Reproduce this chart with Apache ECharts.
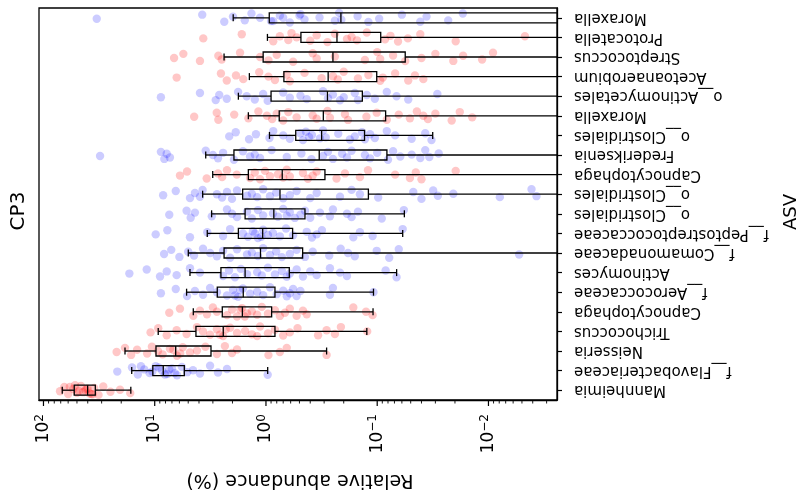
<!DOCTYPE html>
<html>
<head>
<meta charset="utf-8">
<script src="https://cdn.jsdelivr.net/npm/echarts@6/dist/echarts.min.js"></script>
</head>
<body style="margin:0">
<div id="container" style="width:806px;height:498px"></div>
<script>
// categories listed bottom -> top
var categories = ['Mannheimia', 'f__Flavobacteriaceae', 'Neisseria', 'Trichococcus', 'Capnocytophaga',
  'f__Aerococcaceae', 'Actinomyces', 'f__Comamonadaceae', 'f__Peptostreptococcaceae', 'o__Clostridiales',
  'o__Clostridiales', 'Capnocytophaga', 'Frederiksenia', 'o__Clostridiales', 'Moraxella',
  'o__Actinomycetales', 'Acetoanaerobium', 'Streptococcus', 'Protocatella', 'Moraxella'];
var groups = ['r', 'b', 'r', 'r', 'r', 'b', 'b', 'b', 'b', 'b', 'b', 'r', 'b', 'b', 'r', 'b', 'r', 'r', 'r', 'b'];

// box stats per category: [low whisker, Q1, median, Q3, high whisker] (relative abundance, %)
var boxStats = [
  [16.4, 34.2, 40.1, 52.9, 67.8],
  [0.965, 5.42, 8.38, 10.4, 16.1],
  [0.285, 3.12, 6.48, 9.74, 18.5],
  [0.124, 0.83, 2.42, 4.26, 9.3],
  [0.109, 0.889, 1.63, 2.47, 4.5],
  [0.108, 0.83, 1.6, 2.74, 5.17],
  [0.0669, 0.617, 1.54, 2.54, 4.82],
  [0.001, 0.468, 1.12, 2.38, 4.99],
  [0.059, 0.576, 1.07, 1.77, 3.37],
  [0.057, 0.446, 0.85, 1.54, 3.08],
  [0.001, 0.12, 0.748, 1.62, 3.71],
  [0.001, 0.295, 0.714, 1.44, 3.01],
  [0.001, 0.0818, 0.332, 1.94, 3.48],
  [0.0317, 0.13, 0.316, 0.54, 0.93],
  [0.001, 0.084, 0.305, 0.76, 1.44],
  [0.001, 0.136, 0.28, 0.90, 1.77],
  [0.001, 0.101, 0.276, 0.69, 1.41],
  [0.001, 0.056, 0.25, 1.06, 2.38],
  [0.001, 0.093, 0.23, 0.485, 0.97],
  [0.0005, 0.001, 0.212, 0.934, 1.97]
];

// individual samples per category (%)
var points = [
  [71, 65, 60, 54, 50, 46, 42, 38.5, 35, 32, 29, 25, 20.5, 16.6, 52, 44, 40, 36, 48, 58, 37, 41],
  [21.7, 16, 14.2, 12.4, 11.1, 9.8, 8.6, 7.7, 7.0, 6.3, 5.7, 5.1, 4.53, 3.92, 3.18, 2.7, 2.24, 0.965, 10.5, 9.2, 8.1, 7.4, 6.6, 13.3],
  [22, 18.5, 16.3, 14.4, 11.7, 10.6, 9.35, 8.5, 7.3, 6.3, 5.6, 4.82, 4.17, 2.76, 2.34, 2.02, 1.82, 0.95, 0.75, 0.65, 0.285, 6.8, 5.9, 3.5],
  [10.9, 9.3, 7.8, 6.35, 5.17, 4.17, 3.68, 3.18, 2.76, 2.43, 2.1, 1.82, 1.54, 1.34, 1.13, 0.96, 0.83, 0.70, 0.61, 0.52, 0.34, 0.285, 0.24, 0.212, 0.123, 2.6, 2.3, 1.2],
  [7.4, 5.93, 4.5, 3.92, 3.39, 3.0, 2.76, 2.24, 2.02, 1.82, 1.64, 1.48, 1.34, 1.2, 1.09, 0.96, 0.83, 0.75, 0.675, 0.61, 0.53, 0.465, 0.43, 0.164, 0.126, 0.11, 1.7, 1.55],
  [8.8, 6.47, 5.12, 4.35, 3.68, 3.18, 2.76, 2.24, 1.98, 1.78, 1.61, 1.39, 1.2, 1.06, 0.92, 0.80, 0.70, 0.65, 0.61, 0.57, 0.53, 0.49, 0.266, 0.25, 0.108, 1.9, 1.7],
  [16.9, 11.8, 8.96, 7.8, 6.35, 4.82, 3.92, 2.43, 2.15, 1.9, 1.68, 1.48, 1.2, 1.09, 0.96, 0.83, 0.72, 0.65, 0.61, 0.53, 0.465, 0.40, 0.35, 0.266, 0.216, 0.187, 0.084, 0.067],
  [8.24, 7.1, 6.0, 5.0, 4.43, 3.68, 3.18, 2.76, 2.43, 2.1, 1.82, 1.48, 1.34, 1.18, 1.06, 0.92, 0.81, 0.72, 0.61, 0.53, 0.446, 0.38, 0.27, 0.213, 0.183, 0.159, 0.101, 0.078, 0.064, 0.0053],
  [9.8, 7.7, 4.82, 3.37, 2.43, 2.1, 1.61, 1.45, 1.31, 1.18, 1.06, 0.96, 0.865, 0.75, 0.66, 0.57, 0.43, 0.386, 0.35, 0.314, 0.164, 0.143, 0.11, 0.059, 1.25, 1.1],
  [7.4, 5.17, 4.75, 4.35, 3.07, 2.24, 2.02, 1.82, 1.48, 1.34, 1.18, 1.06, 0.865, 0.78, 0.70, 0.65, 0.61, 0.55, 0.49, 0.446, 0.40, 0.327, 0.266, 0.25, 0.187, 0.17, 0.149, 0.091, 0.0576],
  [8.4, 6.47, 4.82, 4.35, 3.92, 3.71, 2.76, 2.48, 2.24, 2.02, 1.82, 1.48, 1.34, 1.2, 1.06, 0.92, 0.81, 0.70, 0.61, 0.53, 0.40, 0.35, 0.216, 0.17, 0.143, 0.098, 0.0474, 0.040, 0.0314, 0.0285, 0.0207, 0.0079, 0.0041, 0.0037],
  [5.93, 5.12, 3.41, 2.7, 2.48, 2.24, 1.83, 1.39, 1.26, 1.13, 1.02, 0.92, 0.78, 0.70, 0.65, 0.61, 0.465, 0.42, 0.38, 0.35, 0.232, 0.195, 0.143, 0.121, 0.069, 0.0508, 0.045, 0.040, 0.0197],
  [31.0, 8.8, 8.2, 7.8, 7.3, 3.48, 3.0, 2.7, 2.43, 1.94, 1.61, 1.39, 1.26, 1.13, 0.89, 0.65, 0.48, 0.39, 0.307, 0.277, 0.25, 0.207, 0.187, 0.17, 0.129, 0.116, 0.1, 0.08, 0.072, 0.062, 0.049, 0.041, 0.037, 0.034, 0.028],
  [2.14, 1.87, 1.42, 1.23, 0.93, 0.86, 0.70, 0.61, 0.49, 0.465, 0.437, 0.41, 0.386, 0.327, 0.307, 0.29, 0.224, 0.176, 0.159, 0.137, 0.129, 0.116, 0.105, 0.082, 0.069, 0.049, 0.037, 0.0325],
  [4.42, 2.77, 2.68, 1.93, 1.44, 1.17, 0.98, 0.88, 0.80, 0.70, 0.63, 0.53, 0.38, 0.35, 0.28, 0.266, 0.195, 0.183, 0.125, 0.101, 0.082, 0.064, 0.0508, 0.044, 0.0385, 0.035, 0.030, 0.0214, 0.0181, 0.014],
  [8.8, 3.92, 2.83, 2.63, 2.25, 1.78, 1.49, 1.26, 1.06, 0.965, 0.70, 0.61, 0.49, 0.43, 0.307, 0.277, 0.25, 0.216, 0.2, 0.159, 0.149, 0.124, 0.105, 0.082, 0.067, 0.0526, 0.0288],
  [6.35, 2.54, 2.25, 1.86, 1.6, 1.15, 0.95, 0.83, 0.65, 0.61, 0.45, 0.316, 0.25, 0.226, 0.2, 0.149, 0.12, 0.094, 0.089, 0.069, 0.0526, 0.0458, 0.0385],
  [6.7, 5.53, 3.92, 2.68, 2.5, 1.71, 1.13, 0.95, 0.80, 0.57, 0.38, 0.35, 0.24, 0.129, 0.1, 0.094, 0.072, 0.056, 0.04, 0.030, 0.0207, 0.0169, 0.0114, 0.0091],
  [3.66, 1.65, 0.86, 0.75, 0.63, 0.59, 0.53, 0.40, 0.35, 0.28, 0.24, 0.187, 0.17, 0.152, 0.124, 0.085, 0.076, 0.065, 0.053, 0.041, 0.0197, 0.0047],
  [33.2, 3.74, 2.37, 1.98, 1.55, 1.35, 1.13, 0.86, 0.75, 0.61, 0.49, 0.45, 0.33, 0.24, 0.22, 0.21, 0.15, 0.12, 0.096, 0.06, 0.041, 0.036, 0.023, 0.017, 0.7, 0.9, 0.5]
];

var majorTicks = [0.01, 0.1, 1, 10, 100];

// styling
var jitterPattern = [0.05, -0.16, 0.2, -0.06, 0.13, -0.22, 0.0, 0.17, -0.11, 0.24, -0.19, 0.08, -0.02, 0.15, -0.25, 0.1, -0.08, 0.21];
var groupColor = { r: 'rgba(255,0,0,0.22)', b: 'rgba(0,0,255,0.2)' };
var font = 'DejaVu Sans';

var minorTicks = [];
[0.001, 0.01, 0.1, 1, 10].forEach(function (d) {
  for (var m = 2; m <= 9; m++) minorTicks.push(+(d * m).toPrecision(3));
});

var pointData = [];
points.forEach(function (row, i) {
  row.forEach(function (v, k) { pointData.push([v, i, k]); });
});
var boxData = boxStats.map(function (s, i) { return [i].concat(s); });
var tickData = majorTicks.map(function (v) { return [v, 1]; })
  .concat(minorTicks.map(function (v) { return [v, 0]; }));

function renderPoint(params, api) {
  var i = api.value(1);
  var c = api.coord([api.value(0), i]);
  var band = api.size([1, 1])[1];
  var dy = jitterPattern[api.value(2) % jitterPattern.length] * band;
  return {
    type: 'circle',
    shape: { cx: c[0], cy: c[1] + dy, r: 4.2 },
    style: { fill: groupColor[groups[i]], stroke: null }
  };
}

function renderBox(params, api) {
  var i = api.value(0);
  var lo = api.coord([api.value(1), i]);
  var q1 = api.coord([api.value(2), i]);
  var md = api.coord([api.value(3), i]);
  var q3 = api.coord([api.value(4), i]);
  var hi = api.coord([api.value(5), i]);
  var y = md[1], h = 5, c = 3.5;
  var st = { stroke: '#000', lineWidth: 1.3, fill: null };
  return {
    type: 'group',
    children: [
      { type: 'line', shape: { x1: hi[0], y1: y, x2: q3[0], y2: y }, style: st },
      { type: 'line', shape: { x1: q1[0], y1: y, x2: lo[0], y2: y }, style: st },
      { type: 'line', shape: { x1: hi[0], y1: y - c, x2: hi[0], y2: y + c }, style: st },
      { type: 'line', shape: { x1: lo[0], y1: y - c, x2: lo[0], y2: y + c }, style: st },
      { type: 'rect', shape: { x: Math.min(q1[0], q3[0]), y: y - h, width: Math.abs(q1[0] - q3[0]), height: 2 * h }, style: st },
      { type: 'line', shape: { x1: md[0], y1: y - h, x2: md[0], y2: y + h }, style: st }
    ]
  };
}

function renderTick(params, api) {
  var x = api.coord([api.value(0), 0])[0];
  var cs = params.coordSys;
  if (x < cs.x - 0.5 || x > cs.x + cs.width + 0.5) return null;
  var b = cs.y + cs.height;
  var len = api.value(1) ? 6 : 3.5;
  return {
    type: 'line',
    shape: { x1: x, y1: b, x2: x, y2: b + len },
    style: { stroke: '#000', lineWidth: api.value(1) ? 1.2 : 0.9 }
  };
}

var chart = echarts.init(document.getElementById('container'));
chart.setOption({
  animation: false,
  backgroundColor: '#fff',
  grid: { left: 39, top: 8, width: 518, height: 392, show: true, borderColor: '#000', borderWidth: 1.3, backgroundColor: 'transparent' },
  xAxis: {
    type: 'log',
    logBase: 10,
    inverse: true,
    min: 0.00242,
    max: 109.7,
    axisLine: { show: true, lineStyle: { color: '#000', width: 1.3 } },
    axisTick: { show: false },
    splitLine: { show: false },
    minorTick: { show: false },
    axisLabel: {
      rotate: 90,
      margin: 14,
      showMinLabel: false,
      showMaxLabel: false,
      color: '#000',
      fontFamily: font,
      formatter: function (v) {
        var e = Math.log10(v);
        var r = Math.round(e);
        if (Math.abs(e - r) > 1e-6) return '';
        return '{b|10}{s|' + (r < 0 ? '\u2212' + (-r) : r) + '}';
      },
      rich: {
        b: { fontSize: 17, fontFamily: font, color: '#000', lineHeight: 20 },
        s: { fontSize: 12, fontFamily: font, color: '#000', verticalAlign: 'top', lineHeight: 12 }
      }
    }
  },
  yAxis: {
    type: 'category',
    position: 'right',
    data: categories,
    axisLine: { show: true, lineStyle: { color: '#000', width: 1.3 } },
    axisTick: { show: true, alignWithLabel: true, length: 5, lineStyle: { color: '#000', width: 1.2 } },
    splitLine: { show: false },
    axisLabel: { rotate: 180, margin: 17, fontSize: 15, fontFamily: font, color: '#000' }
  },
  graphic: [
    { type: 'text', x: 19, y: 211, rotation: Math.PI / 2,
      style: { text: 'CP3', font: '20px "DejaVu Sans"', fill: '#000', textAlign: 'center', textVerticalAlign: 'middle' } },
    { type: 'text', x: 791, y: 212, rotation: Math.PI / 2,
      style: { text: 'ASV', font: '18px "DejaVu Sans"', fill: '#000', textAlign: 'center', textVerticalAlign: 'middle' } },
    { type: 'text', x: 300, y: 480, rotation: Math.PI,
      style: { text: 'Relative abundance (%)', font: '19px "DejaVu Sans"', fill: '#000', textAlign: 'center', textVerticalAlign: 'middle' } }
  ],
  series: [
    { type: 'custom', name: 'samples', data: pointData, encode: { x: 0, y: 1 }, renderItem: renderPoint, clip: true, silent: true, z: 2 },
    { type: 'custom', name: 'boxes', data: boxData, encode: { y: 0, x: [1, 2, 3, 4, 5] }, renderItem: renderBox, clip: true, silent: true, z: 3 },
    { type: 'custom', name: 'ticks', data: tickData, encode: { x: 0, y: 1 }, renderItem: renderTick, clip: false, silent: true, z: 4 }
  ]
});
</script>
</body>
</html>
